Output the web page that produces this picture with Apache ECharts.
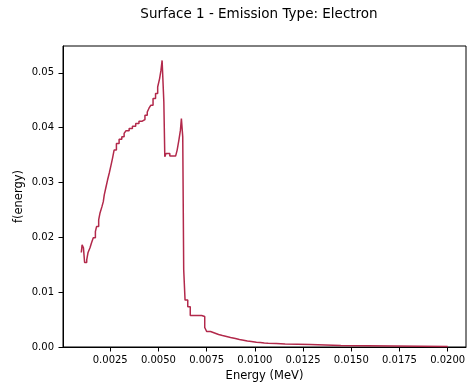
<!DOCTYPE html>
<html>
<head>
<meta charset="utf-8">
<script src="https://cdn.jsdelivr.net/npm/echarts@6/dist/echarts.min.js"></script>
<style>
html,body{margin:0;padding:0;background:#fff;}
#chart{width:468px;height:385px;}
</style>
</head>
<body>
<div id="chart"></div>
<script>
// Step levels: energy (MeV) where each level begins, and f(energy) for that level
var energy = [0.00100,0.00104,0.00111,0.00117,0.00128,0.00135,0.00145,0.00153,0.00162,0.00173,
  0.00179,0.00190,0.00197,0.00207,0.00214,0.00219,0.00228,0.00236,0.00245,0.00253,
  0.00262,0.00270,0.00282,0.00296,0.00310,0.00322,0.00331,0.00348,0.00365,0.00382,
  0.00399,0.00416,0.00430,0.00442,0.00451,0.00460,0.00472,0.00485,0.00496,0.00506,
  0.00513,0.00519,0.00528,0.00533,0.00539,0.00559,0.00589,0.00597,0.00606,0.00614,
  0.00619,0.00626,0.00631,0.00638,0.00652,0.00665,0.00724,0.00740,0.00750,0.00770,
  0.00791,0.00812,0.00832,0.00853,0.00874,0.00899,0.00920,0.00941,0.00961,0.00982,
  0.01008,0.01028,0.01049,0.01069,0.01111,0.01157,0.01286,0.01446,0.02000];
var fEnergy = [0.01724,0.01864,0.01809,0.01542,0.01591,0.01724,0.01809,0.01900,0.01991,0.02105,
  0.02196,0.02318,0.02445,0.02560,0.02651,0.02773,0.02918,0.03045,0.03173,0.03300,
  0.03445,0.03591,0.03713,0.03791,0.03833,0.03895,0.03942,0.03985,0.04027,0.04076,
  0.04118,0.04149,0.04227,0.04287,0.04355,0.04409,0.04531,0.04622,0.04742,0.04895,
  0.05045,0.05227,0.04464,0.03469,0.03531,0.03482,0.03469,0.03591,0.03773,0.03955,
  0.04167,0.03833,0.01409,0.00855,0.00736,0.00573,0.00555,0.00355,0.00282,0.00255,
  0.00227,0.00209,0.00191,0.00173,0.00155,0.00136,0.00124,0.00109,0.00100,0.00087,
  0.00082,0.00073,0.00067,0.00064,0.00053,0.00045,0.00027,0.00009,0.00009];
var xTicks = [0.0025,0.0050,0.0075,0.0100,0.0125,0.0150,0.0175,0.0200];
var yTicks = [0.00,0.01,0.02,0.03,0.04,0.05];
var titleText = 'Surface 1 - Emission Type: Electron';
var xLabel = 'Energy (MeV)';
var yLabel = 'f(energy)';

var pts = energy.map(function(e,i){return [e,fEnergy[i]];});
var chart = echarts.init(document.getElementById('chart'), null, {renderer:'canvas'});
var font = 'DejaVu Sans';
chart.setOption({
  animation:false,
  backgroundColor:'#fff',
  title:{text:titleText,left:254,top:2,textAlign:'center',
    textStyle:{fontFamily:font,fontSize:13.5,fontWeight:'normal',color:'#000'}},
  grid:{left:63,right:2,top:46,bottom:38,show:true,borderColor:'#000',borderWidth:1,
    backgroundColor:'transparent',containLabel:false,outerBoundsMode:'none'},
  xAxis:{type:'value',min:0.00005,max:0.02095,
    name:xLabel,nameLocation:'middle',nameGap:23,nameMoveOverlap:false,
    nameTextStyle:{fontFamily:font,fontSize:11.5,color:'#000'},
    axisLine:{show:true,lineStyle:{color:'#000',width:1}},
    axisTick:{show:true,inside:false,length:4.5,lineStyle:{color:'#000'},customValues:xTicks},
    axisLabel:{fontFamily:font,fontSize:10,color:'#000',margin:8,customValues:xTicks,
      formatter:function(v){return v.toFixed(4);}},
    splitLine:{show:false}},
  yAxis:{type:'value',min:0,max:0.0549,
    name:yLabel,nameLocation:'middle',nameGap:38,nameRotate:90,nameMoveOverlap:false,
    nameTextStyle:{fontFamily:font,fontSize:11.5,color:'#000'},
    axisLine:{show:true,lineStyle:{color:'#000',width:1}},
    axisTick:{show:true,inside:false,length:4.5,lineStyle:{color:'#000'},customValues:yTicks},
    axisLabel:{fontFamily:font,fontSize:10,color:'#000',margin:9,customValues:yTicks,
      formatter:function(v){return v.toFixed(2);}},
    splitLine:{show:false}},
  series:[{type:'line',step:'end',data:pts,showSymbol:false,
    lineStyle:{color:'#b2294b',width:1.5},itemStyle:{color:'#b2294b'}}]
});
</script>
</body>
</html>
